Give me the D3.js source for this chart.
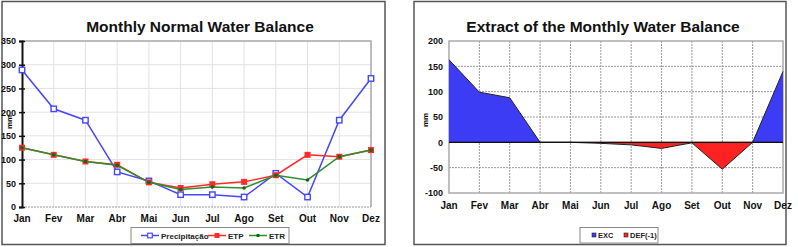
<!DOCTYPE html>
<html>
<head>
<meta charset="utf-8">
<script src="https://cdn.jsdelivr.net/npm/d3@7"></script>
<style>
  body { margin: 0; background: #fff; }
  svg { display: block; font-family: "Liberation Sans", Arial, sans-serif; }
</style>
</head>
<body>
<svg id="chart" width="798" height="247"></svg>
<script>
// months on the x axis
const months = ["Jan", "Fev", "Mar", "Abr", "Mai", "Jun", "Jul", "Ago", "Set", "Out", "Nov", "Dez"];

// left chart series
const precip = [289, 207, 183, 74, 55, 26, 26, 21, 71, 21, 183, 271];
const etp = [125, 110, 96, 89, 52, 40, 48, 53, 67, 110, 106, 120];
const etr = [125, 110, 96, 88, 52, 37, 42, 40, 67, 57, 106, 120];

// right chart series
const exc = [163, 99, 88, 0, 0, 0, 0, 0, 0, 0, 0, 140];
const def = [0, 0, 0, 0, 0, -2, -5, -12, -1, -53, 0, 0];

// tick labels
const leftTicks = [0, 50, 100, 150, 200, 250, 300, 350];
const rightTicks = [-100, -50, 0, 50, 100, 150, 200];

const svg = d3.select("#chart");

// panel frames
svg.append("rect").attr("x", 2).attr("y", 1.5).attr("width", 383).attr("height", 243)
    .attr("fill", "#fff").attr("stroke", "#555").attr("stroke-width", 1.5);
svg.append("rect").attr("x", 414).attr("y", 1.5).attr("width", 372).attr("height", 243)
    .attr("fill", "#fff").attr("stroke", "#555").attr("stroke-width", 1.5);

// ---------- left chart ----------
let x1 = d3.scalePoint().domain(months).range([22, 371]);
let y1 = d3.scaleLinear().domain([0, 350]).range([207, 41]);

let g1 = svg.append("g");

// grid
g1.selectAll(".vg").data(months.slice(1)).enter().append("line")
    .attr("x1", d => x1(d)).attr("x2", d => x1(d))
    .attr("y1", y1(0)).attr("y2", y1(350))
    .attr("stroke", "#e2e2e2").attr("stroke-width", 1);
g1.selectAll(".hg").data(leftTicks.slice(1)).enter().append("line")
    .attr("x1", x1("Jan")).attr("x2", x1("Dez"))
    .attr("y1", d => y1(d)).attr("y2", d => y1(d))
    .attr("stroke", "#e2e2e2").attr("stroke-width", 1);

// plot border top and right
g1.append("path")
    .attr("d", `M${x1("Jan")},${y1(350)}H${x1("Dez")}V${y1(0)}`)
    .attr("fill", "none").attr("stroke", "#aaa").attr("stroke-width", 1.5);

// bottom dashed axis
g1.append("line")
    .attr("x1", x1("Jan")).attr("x2", x1("Dez")).attr("y1", y1(0)).attr("y2", y1(0))
    .attr("stroke", "#999").attr("stroke-dasharray", "2,1");

// y axis
g1.append("g").attr("transform", `translate(${x1("Jan")},0)`)
    .call(d3.axisLeft(y1).tickValues(leftTicks).tickSize(3).tickPadding(3))
    .call(g => g.select(".domain").attr("stroke", "#111").attr("stroke-width", 2))
    .call(g => g.selectAll(".tick line").attr("stroke", "#111").attr("stroke-width", 1.5).attr("x2", 3).attr("x1", -3))
    .call(g => g.selectAll("text").attr("font-size", 9).attr("font-weight", "bold").attr("fill", "#111"));

// x labels
g1.selectAll(".xl").data(months).enter().append("text")
    .attr("x", d => x1(d)).attr("y", 222)
    .attr("text-anchor", "middle").attr("font-size", 10).attr("font-weight", "bold").attr("fill", "#111")
    .text(d => d);

g1.append("text").attr("transform", "translate(12,122) rotate(-90)")
    .attr("text-anchor", "middle").attr("font-size", 8).attr("font-weight", "bold").text("mm");

g1.append("text").attr("x", 200).attr("y", 32).attr("text-anchor", "middle")
    .attr("font-size", 15.5).attr("font-weight", "bold").attr("fill", "#111")
    .text("Monthly Normal Water Balance");

let line1 = d3.line().x((d, i) => x1(months[i])).y(d => y1(d));

let series = [
    {name: "Precipitação", values: precip, color: "#4646ff", marker: "open"},
    {name: "ETP", values: etp, color: "#ff2a2a", marker: "square"},
    {name: "ETR", values: etr, color: "#2f8f2f", marker: "dot"}
];

series.forEach(s => {
    g1.append("path").attr("d", line1(s.values))
        .attr("fill", "none").attr("stroke", s.color).attr("stroke-width", 1.5);
    s.values.forEach((v, i) => {
        if (s.marker == "open") {
            g1.append("rect").attr("x", x1(months[i]) - 2.7).attr("y", y1(v) - 2.7)
                .attr("width", 5.4).attr("height", 5.4).attr("fill", "#fff")
                .attr("stroke", s.color).attr("stroke-width", 1.4);
        } else if (s.marker == "square") {
            g1.append("rect").attr("x", x1(months[i]) - 3).attr("y", y1(v) - 3)
                .attr("width", 6).attr("height", 6).attr("fill", s.color);
        } else {
            g1.append("circle").attr("cx", x1(months[i])).attr("cy", y1(v))
                .attr("r", 1.8).attr("fill", "#116611");
        }
    });
});

// left legend
g1.append("rect").attr("x", 131).attr("y", 227.5).attr("width", 158).attr("height", 16)
    .attr("fill", "#fff").attr("stroke", "#888");
let lx = [141, 208, 249];
series.forEach((s, i) => {
    let cx = lx[i] + 9;
    g1.append("line").attr("x1", lx[i]).attr("x2", lx[i] + 18).attr("y1", 235.5).attr("y2", 235.5)
        .attr("stroke", s.color).attr("stroke-width", 1.5);
    if (s.marker == "open") {
        g1.append("rect").attr("x", cx - 2.3).attr("y", 233.2).attr("width", 4.6).attr("height", 4.6)
            .attr("fill", "#fff").attr("stroke", s.color).attr("stroke-width", 1.2);
    } else if (s.marker == "square") {
        g1.append("rect").attr("x", cx - 2.5).attr("y", 233).attr("width", 5).attr("height", 5)
            .attr("fill", s.color);
    } else {
        g1.append("circle").attr("cx", cx).attr("cy", 235.5).attr("r", 1.8).attr("fill", "#116611");
    }
    g1.append("text").attr("x", lx[i] + 20).attr("y", 238.5)
        .attr("font-size", 8).attr("font-weight", "bold").attr("fill", "#222").text(s.name);
});

// ---------- right chart ----------
let x2 = d3.scalePoint().domain(months).range([449, 783]);
let y2 = d3.scaleLinear().domain([-100, 200]).range([193, 41]);

let g2 = svg.append("g");

g2.selectAll(".vg").data(months.slice(1, 11)).enter().append("line")
    .attr("x1", d => x2(d)).attr("x2", d => x2(d))
    .attr("y1", y2(-100)).attr("y2", y2(200))
    .attr("stroke", "#999").attr("stroke-dasharray", "2,1");
g2.selectAll(".hg").data([-50, 50, 100, 150]).enter().append("line")
    .attr("x1", x2("Jan")).attr("x2", x2("Dez"))
    .attr("y1", d => y2(d)).attr("y2", d => y2(d))
    .attr("stroke", "#999").attr("stroke-dasharray", "2,1");

g2.append("rect").attr("x", x2("Jan")).attr("y", y2(200))
    .attr("width", x2("Dez") - x2("Jan")).attr("height", y2(-100) - y2(200))
    .attr("fill", "none").attr("stroke", "#aaa").attr("stroke-width", 1.5);

let area2 = d3.area().x((d, i) => x2(months[i])).y0(y2(0)).y1(d => y2(d));
let line2 = d3.line().x((d, i) => x2(months[i])).y(d => y2(d));

g2.append("path").attr("d", area2(exc)).attr("fill", "#3c3cf5");
g2.append("path").attr("d", area2(def)).attr("fill", "#ff2222");
g2.append("path").attr("d", line2(exc)).attr("fill", "none").attr("stroke", "#222").attr("stroke-width", 1);
g2.append("path").attr("d", line2(def)).attr("fill", "none").attr("stroke", "#222").attr("stroke-width", 1);
g2.append("line").attr("x1", x2("Jan")).attr("x2", x2("Dez")).attr("y1", y2(0)).attr("y2", y2(0))
    .attr("stroke", "#111").attr("stroke-width", 1.2);

g2.append("g").attr("transform", `translate(${x2("Jan")},0)`)
    .call(d3.axisLeft(y2).tickValues(rightTicks).tickSize(0).tickPadding(6).tickFormat(d => String(d)))
    .call(g => g.select(".domain").remove())
    .call(g => g.selectAll("text").attr("font-size", 9).attr("font-weight", "bold").attr("fill", "#111"));

g2.selectAll(".xl").data(months).enter().append("text")
    .attr("x", d => x2(d)).attr("y", 209)
    .attr("text-anchor", "middle").attr("font-size", 10).attr("font-weight", "bold").attr("fill", "#111")
    .text(d => d);

g2.append("text").attr("transform", "translate(428,120) rotate(-90)")
    .attr("text-anchor", "middle").attr("font-size", 8).attr("font-weight", "bold").text("mm");

g2.append("text").attr("x", 603).attr("y", 32).attr("text-anchor", "middle")
    .attr("font-size", 15.5).attr("font-weight", "bold").attr("fill", "#111")
    .text("Extract of the Monthly Water Balance");

// right legend
g2.append("rect").attr("x", 580).attr("y", 227.5).attr("width", 78).attr("height", 15.5)
    .attr("fill", "#fff").attr("stroke", "#888");
let leg2 = [{name: "EXC", color: "#3c3cf5", x: 592}, {name: "DEF(-1)", color: "#ff2222", x: 624}];
leg2.forEach(d => {
    g2.append("rect").attr("x", d.x).attr("y", 233).attr("width", 4).attr("height", 4)
        .attr("fill", d.color).attr("stroke", "#222").attr("stroke-width", 0.6);
    g2.append("text").attr("x", d.x + 6).attr("y", 238).attr("font-size", 7.5)
        .attr("font-weight", "bold").attr("fill", "#222").text(d.name);
});
</script>
</body>
</html>
